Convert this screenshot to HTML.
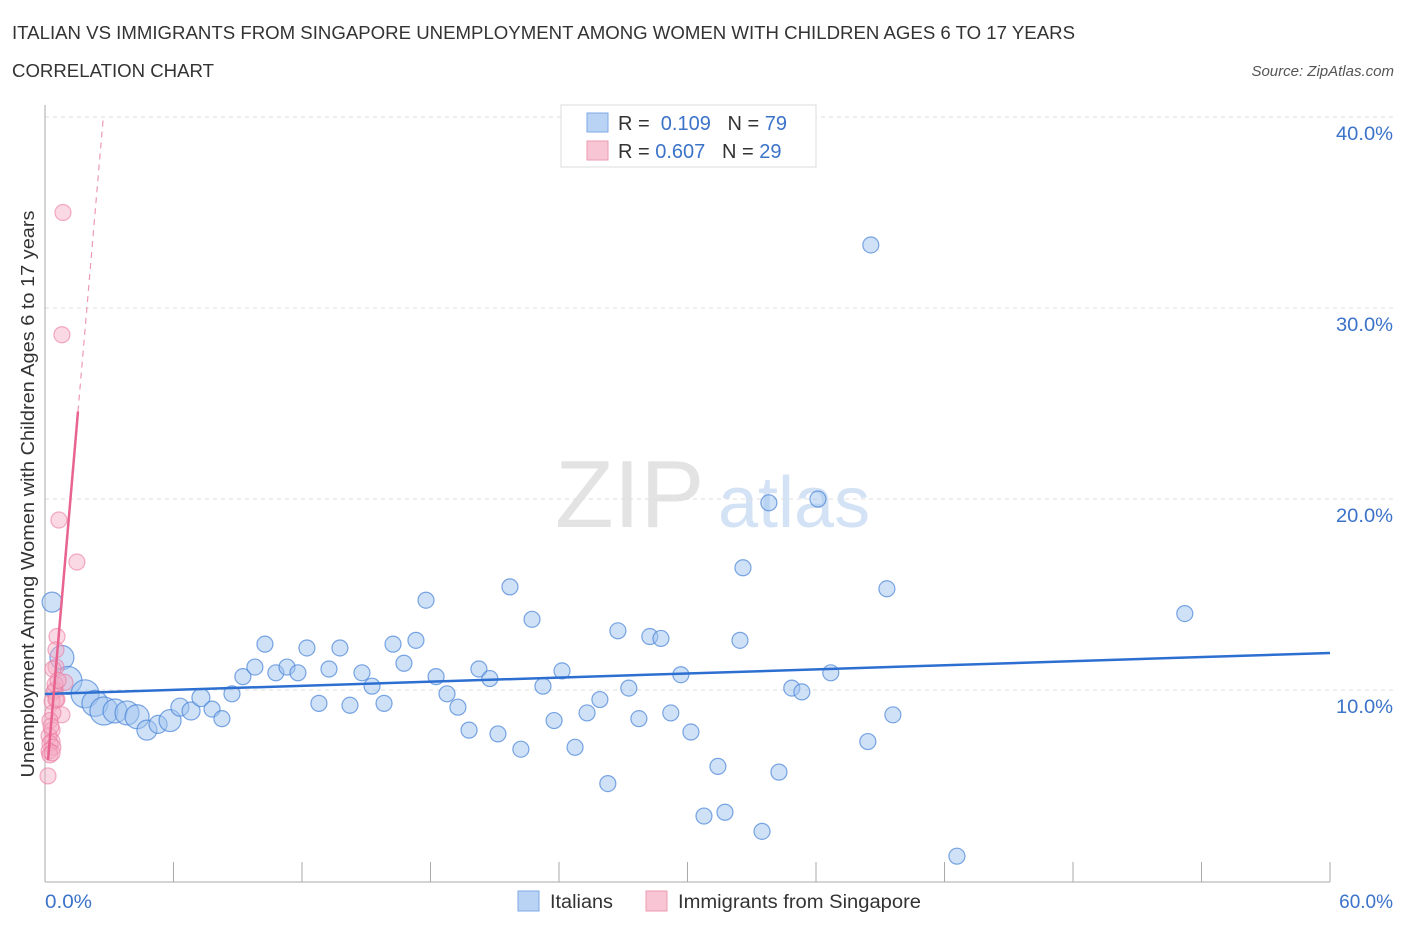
<!DOCTYPE html>
<html><head><meta charset="utf-8">
<style>
body{margin:0;background:#fff;font-family:"Liberation Sans",sans-serif;}
svg text{font-family:"Liberation Sans",sans-serif;}
</style></head>
<body>
<svg id="chart" width="1406" height="930" xmlns="http://www.w3.org/2000/svg">
<text x="12" y="39" font-size="18" fill="#333" textLength="1063" lengthAdjust="spacingAndGlyphs">ITALIAN VS IMMIGRANTS FROM SINGAPORE UNEMPLOYMENT AMONG WOMEN WITH CHILDREN AGES 6 TO 17 YEARS</text>
<text x="12" y="77" font-size="18" fill="#333" textLength="202" lengthAdjust="spacingAndGlyphs">CORRELATION CHART</text>
<text x="1394" y="76" font-size="15" fill="#555" font-style="italic" text-anchor="end">Source: ZipAtlas.com</text>
<text x="555" y="527" font-size="96" fill="#ddd" font-family="Liberation Serif" opacity="0.8">ZIP</text>
<text x="718" y="527" font-size="72" fill="#c9dcf3" opacity="0.8">atlas</text>
<g id="grid"></g>
<g id="axes"></g>
<g id="marks"></g>
<text transform="translate(34,494) rotate(-90)" font-size="18" fill="#333" text-anchor="middle" textLength="567" lengthAdjust="spacingAndGlyphs">Unemployment Among Women with Children Ages 6 to 17 years</text>
<text x="45" y="908" font-size="19" fill="#3b73c9" textLength="47" lengthAdjust="spacingAndGlyphs">0.0%</text>
<text x="1393" y="908" font-size="19" fill="#3b73c9" text-anchor="end">60.0%</text>
<g>
<rect x="561" y="105" width="255" height="62" fill="#fff" stroke="#ddd"/>
<rect x="587" y="113" width="21" height="19" fill="#b9d3f5" stroke="#7faae6"/>
<rect x="587" y="141" width="21" height="19" fill="#f8c5d4" stroke="#ec9ab2"/>
<text x="618" y="130" font-size="20" fill="#333">R = <tspan fill="#3b73c9">&#160;0.109</tspan>&#160;&#160;&#160;N = <tspan fill="#3b73c9">79</tspan></text>
<text x="618" y="158" font-size="20" fill="#333">R = <tspan fill="#3b73c9">0.607</tspan>&#160;&#160;&#160;N = <tspan fill="#3b73c9">29</tspan></text>
</g>
<g>
<rect x="518" y="891" width="21" height="20" fill="#b9d3f5" stroke="#7faae6"/>
<text x="550" y="908" font-size="19" fill="#333" textLength="63" lengthAdjust="spacingAndGlyphs">Italians</text>
<rect x="646" y="891" width="21" height="20" fill="#f8c5d4" stroke="#ec9ab2"/>
<text x="678" y="908" font-size="19" fill="#333" textLength="243" lengthAdjust="spacingAndGlyphs">Immigrants from Singapore</text>
</g>
</svg>
<script>
const yTicks=[10,20,30,40];
const xTicks=[0,6,12,18,24,30,36,42,48,54,60];
const blueX=[0.33,0.79,1.07,1.87,2.33,2.75,3.27,3.83,4.30,4.76,5.28,5.84,6.30,6.82,7.28,7.80,8.26,8.73,9.24,9.80,10.27,10.78,11.30,11.81,12.23,12.79,13.26,13.77,14.24,14.80,15.27,15.83,16.25,16.76,17.32,17.79,18.26,18.77,19.28,19.80,20.26,20.77,21.15,21.71,22.22,22.74,23.25,23.77,24.14,24.75,25.31,25.91,26.28,26.75,27.26,27.73,28.24,28.76,29.22,29.69,30.16,30.77,31.42,31.75,32.45,32.59,33.48,33.80,34.27,34.87,35.34,36.09,36.69,38.42,38.56,39.31,39.59,42.58,53.22];
const blueY=[14.6,11.7,10.5,9.8,9.3,8.9,8.9,8.8,8.6,7.9,8.2,8.4,9.1,8.9,9.6,9.0,8.5,9.8,10.7,11.2,12.4,10.9,11.2,10.9,12.2,9.3,11.1,12.2,9.2,10.9,10.2,9.3,12.4,11.4,12.6,14.7,10.7,9.8,9.1,7.9,11.1,10.6,7.7,15.4,6.9,13.7,10.2,8.4,11.0,7.0,8.8,9.5,5.1,13.1,10.1,8.5,12.8,12.7,8.8,10.8,7.8,3.4,6.0,3.6,12.6,16.4,2.6,19.8,5.7,10.1,9.9,20.0,10.9,7.3,33.3,15.3,8.7,1.3,14.0];
const blueR=[10,12,14,14,13,14,12,12,12,10,9,11,9,9,9,8,8,8,8,8,8,8,8,8,8,8,8,8,8,8,8,8,8,8,8,8,8,8,8,8,8,8,8,8,8,8,8,8,8,8,8,8,8,8,8,8,8,8,8,8,8,8,8,8,8,8,8,8,8,8,8,8,8,8,8,8,8,8,8];
const pinkX=[0.84,0.79,0.65,1.49,0.56,0.51,0.51,0.37,0.93,0.47,0.42,0.56,0.79,0.33,0.37,0.23,0.33,0.19,0.33,0.23,0.37,0.19,0.23,0.33,0.14,0.47,0.51,0.61,0.28];
const pinkY=[35.0,28.6,18.9,16.7,12.8,12.1,11.2,11.1,10.4,10.0,9.9,9.5,8.7,9.4,8.8,8.4,7.9,7.6,7.3,7.2,7.0,6.8,6.6,6.7,5.5,10.3,9.5,10.5,8.1];
const blueTrend=[9.79,11.94]; // y at x=0 and x=60
const pinkTrend=[4.5,13.04]; // intercept, slope
const X=v=>45+v/60*1285;
const Y=v=>881-v*19.1;
const NS="http://www.w3.org/2000/svg";
function mk(t,a,p){const e=document.createElementNS(NS,t);for(const k in a)e.setAttribute(k,a[k]);p.appendChild(e);return e;}
const grid=document.getElementById('grid'),axes=document.getElementById('axes'),marks=document.getElementById('marks');
yTicks.forEach(t=>{
 const l=mk('line',{x1:45,x2:1395,y1:Y(t),y2:Y(t),stroke:'#ddd','stroke-dasharray':'4,4'},grid);
 
 
 const tx=mk('text',{x:1393,y:Y(t)+23,'font-size':19,fill:'#3b73c9','text-anchor':'end',textLength:57,lengthAdjust:'spacingAndGlyphs'},grid);
 tx.textContent=t.toFixed(1)+'%';
 
 
});
const ya=mk('line',{x1:45,x2:45,y1:105,y2:882,stroke:'#aaa'},axes);


const xa=mk('line',{x1:45,x2:1330,y1:882,y2:882,stroke:'#aaa'},axes);


xTicks.forEach(t=>{
 const l=mk('line',{x1:X(t),x2:X(t),y1:862,y2:882,stroke:'#aaa'},axes);
 
 
});
blueX.forEach((v,i)=>{
 const c=mk('circle',{cx:X(v),cy:Y(blueY[i]),r:blueR[i],fill:'rgba(160,195,240,0.5)',stroke:'rgba(70,130,215,0.7)','stroke-width':1.2},marks);
 
 
});
pinkX.forEach((v,i)=>{
 const c=mk('circle',{cx:X(v),cy:Y(pinkY[i]),r:8,fill:'rgba(245,170,195,0.45)',stroke:'rgba(235,120,160,0.6)','stroke-width':1.2},marks);
 
 
});
const bt=mk('line',{x1:X(0),x2:X(60),y1:Y(blueTrend[0]),y2:Y(blueTrend[1]),stroke:'#2c6fd1','stroke-width':2.5},marks);


const px=(y)=>(y-pinkTrend[0])/pinkTrend[1];
const pt=mk('line',{x1:X(0.14),x2:X(1.54),y1:Y(pinkTrend[0]+pinkTrend[1]*0.14),y2:Y(pinkTrend[0]+pinkTrend[1]*1.54),stroke:'#e8638e','stroke-width':2.5},marks);


const pd=mk('line',{x1:X(1.54),x2:X(px(40)),y1:Y(pinkTrend[0]+pinkTrend[1]*1.54),y2:Y(40),stroke:'#ec9ab2','stroke-width':1.2,'stroke-dasharray':'6,5'},marks);


</script>
</body></html>
